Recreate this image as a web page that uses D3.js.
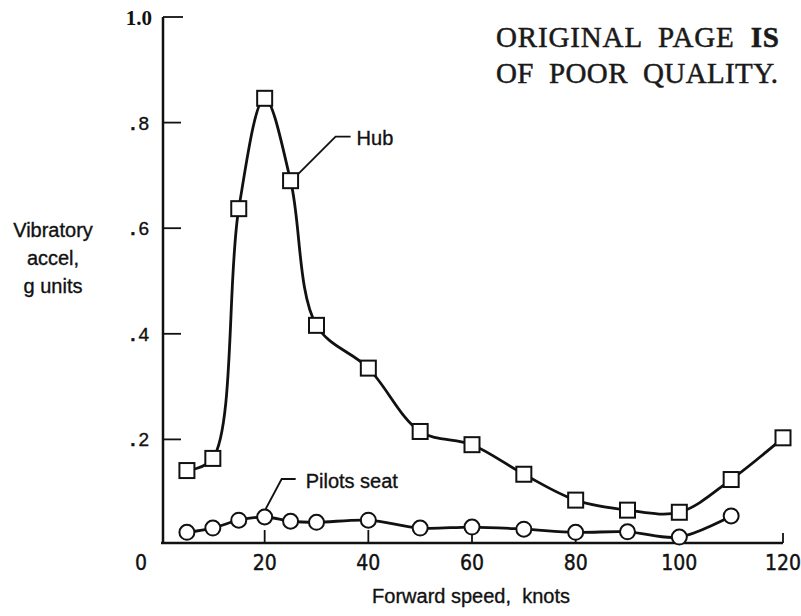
<!DOCTYPE html>
<html>
<head>
<meta charset="utf-8">
<script src="https://cdn.jsdelivr.net/npm/d3@7"></script>
<style>
  html, body { margin: 0; padding: 0; background: #fff; }
  svg { display: block; }
  .sans { font-family: 'Liberation Sans', Arial, sans-serif; stroke: #111; stroke-width: 0.35px; }
  .narrow { font-family: 'Liberation Sans Narrow', 'DejaVu Sans Condensed', sans-serif; stroke: #111; stroke-width: 0.4px; }
  .serif { font-family: 'Liberation Serif', 'DejaVu Serif', serif; }
</style>
</head>
<body>
<svg id="chart" width="801" height="616"></svg>
<script>
// ---- data ----
const hubSpeed   = [5, 10, 15, 20, 25, 30, 40, 50, 60, 70, 80, 90, 100, 110, 120];
const hubAccel   = [0.141, 0.164, 0.637, 0.846, 0.690, 0.416, 0.335, 0.215, 0.190, 0.134, 0.085, 0.066, 0.062, 0.124, 0.203];
const seatSpeed  = [5, 10, 15, 20, 25, 30, 40, 50, 60, 70, 80, 90, 100, 110];
const seatAccel  = [0.024, 0.032, 0.047, 0.053, 0.045, 0.043, 0.047, 0.032, 0.034, 0.030, 0.024, 0.025, 0.015, 0.055];
const xTicks     = [20, 40, 60, 80, 100, 120];
const xTickLabels= ["20", "40", "60", "80", "100", "120"];
const yTicks     = [0.2, 0.4, 0.6, 0.8, 1.0];
const yTickLabels= [".2", ".4", ".6", ".8", "1.0"];
const yTitle     = ["Vibratory", "accel,", "g units"];
const xTitle     = "Forward speed,  knots";
const stampLines = ["ORIGINAL PAGE ", "OF POOR QUALITY."];

const svg = d3.select("#chart");
const x = d3.scaleLinear().domain([0, 120]).range([161, 783]);
const y = d3.scaleLinear().domain([0, 1]).range([545, 17]);
const ink = "#111";

// ---- axes ----
const axisY0 = y(0) - 2;
svg.append("line").attr("x1", x(0)).attr("x2", x(120)).attr("y1", axisY0).attr("y2", axisY0)
  .attr("stroke", ink).attr("stroke-width", 2.5);
svg.append("line").attr("x1", x(0) + 2).attr("x2", x(0) + 2).attr("y1", y(1)).attr("y2", axisY0)
  .attr("stroke", ink).attr("stroke-width", 2.5);

svg.selectAll(".xt").data(xTicks).enter().append("line")
  .attr("x1", d => x(d)).attr("x2", d => x(d))
  .attr("y1", axisY0).attr("y2", d => d === 120 ? axisY0 - 10 : axisY0 - 13)
  .attr("stroke", ink).attr("stroke-width", 1.8);
svg.selectAll(".xl").data(xTicks).enter().append("text")
  .attr("class", "narrow").attr("x", d => x(d)).attr("y", 570)
  .attr("text-anchor", "middle").attr("font-size", 21).attr("fill", ink)
  .text((d, i) => xTickLabels[i]);
svg.append("text").attr("class", "narrow").attr("x", x(0) - 20).attr("y", 570)
  .attr("text-anchor", "middle").attr("font-size", 21).attr("fill", ink).text("0");

svg.selectAll(".yt").data(yTicks).enter().append("line")
  .attr("x1", x(0) + 2).attr("x2", d => d === 1 ? x(0) + 22 : x(0) + 20)
  .attr("y1", d => y(d)).attr("y2", d => y(d))
  .attr("stroke", ink).attr("stroke-width", 1.8);
yTicks.forEach((d, i) => {
  const lab = yTickLabels[i];
  if (d === 1) {
    svg.append("text").attr("class", "serif").attr("x", 152).attr("y", y(d) + 8)
      .attr("text-anchor", "end").attr("font-size", 21).attr("font-weight", "bold")
      .attr("fill", ink).text(lab);
  } else {
    const t = svg.append("text").attr("class", "sans").attr("x", 149).attr("y", y(d) + 7)
      .attr("text-anchor", "end").attr("font-size", 19).attr("fill", ink);
    t.append("tspan").attr("font-weight", "bold").text(lab[0]);
    t.append("tspan").attr("dx", 3).text(lab.slice(1));
  }
});

svg.selectAll(".ytitle").data(yTitle).enter().append("text")
  .attr("class", "sans").attr("x", 53).attr("y", (d, i) => 237 + i * 28)
  .attr("text-anchor", "middle").attr("font-size", 20).attr("fill", ink).text(d => d);
svg.append("text").attr("class", "sans").attr("x", 471).attr("y", 603)
  .attr("text-anchor", "middle").attr("font-size", 20).attr("fill", ink)
  .style("white-space", "pre").attr("xml:space", "preserve").text(xTitle);

// ---- series ----
const line = d3.line().curve(d3.curveCatmullRom.alpha(0.5));
const hubPts = hubSpeed.map((s, i) => [x(s), y(hubAccel[i])]);
const seatPts = seatSpeed.map((s, i) => [x(s), y(seatAccel[i])]);

svg.append("path").attr("d", line(hubPts)).attr("fill", "none")
  .attr("stroke", ink).attr("stroke-width", 2.8).attr("stroke-linejoin", "round");
svg.append("path").attr("d", line(seatPts)).attr("fill", "none")
  .attr("stroke", ink).attr("stroke-width", 2.8).attr("stroke-linejoin", "round");

// leader lines
const hx = x(25), hy = y(hubAccel[hubSpeed.indexOf(25)]);
svg.append("path")
  .attr("d", `M${hx + 7},${hy - 6} L${hx + 45},${hy - 44} L${hx + 60},${hy - 44}`)
  .attr("fill", "none").attr("stroke", ink).attr("stroke-width", 1.8);
svg.append("text").attr("class", "sans").attr("x", hx + 66).attr("y", hy - 36)
  .attr("font-size", 20).attr("fill", ink).text("Hub");

const sx = x(20), sy = y(seatAccel[seatSpeed.indexOf(20)]);
svg.append("path")
  .attr("d", `M${sx + 1},${sy - 8} L${sx + 17},${sy - 38} L${sx + 31},${sy - 38}`)
  .attr("fill", "none").attr("stroke", ink).attr("stroke-width", 1.8);
svg.append("text").attr("class", "sans").attr("x", sx + 41).attr("y", sy - 29)
  .attr("font-size", 20).attr("fill", ink).text("Pilots seat");

// markers
const sq = 15;
svg.selectAll(".sq").data(hubPts).enter().append("rect")
  .attr("x", d => d[0] - sq / 2).attr("y", d => d[1] - sq / 2)
  .attr("width", sq).attr("height", sq)
  .attr("fill", "#fff").attr("stroke", ink).attr("stroke-width", 2);
svg.selectAll(".ci").data(seatPts).enter().append("circle")
  .attr("cx", d => d[0]).attr("cy", d => d[1]).attr("r", 7.5)
  .attr("fill", "#fff").attr("stroke", ink).attr("stroke-width", 2);

// ---- stamp ----
const st1 = svg.append("text").attr("class", "serif").attr("x", 496).attr("y", 47)
  .attr("font-size", 29).attr("fill", "#1a1a1a").attr("stroke", "#1a1a1a").attr("stroke-width", 0.5)
  .attr("textLength", 283).attr("lengthAdjust", "spacing")
  .style("white-space", "pre").attr("xml:space", "preserve");
st1.append("tspan").text(stampLines[0].replace(/ /g, "  "));
st1.append("tspan").attr("font-weight", "bold").text("IS");
svg.append("text").attr("class", "serif").attr("x", 496).attr("y", 83)
  .attr("font-size", 29).attr("fill", "#1a1a1a").attr("stroke", "#1a1a1a").attr("stroke-width", 0.5)
  .attr("textLength", 282).attr("lengthAdjust", "spacing")
  .style("white-space", "pre").attr("xml:space", "preserve")
  .text(stampLines[1].replace(/ /g, "  "));
</script>
</body>
</html>
